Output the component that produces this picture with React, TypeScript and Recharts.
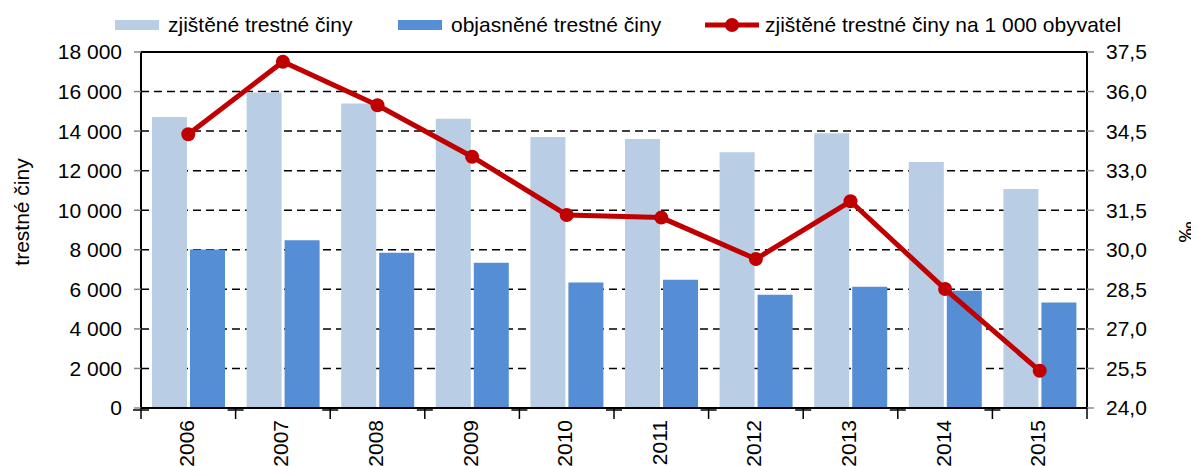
import React from 'react';
import { ComposedChart, Bar, Line, XAxis, YAxis, CartesianGrid, ReferenceLine, Label } from 'recharts';

const years = ['2006', '2007', '2008', '2009', '2010', '2011', '2012', '2013', '2014', '2015'];
const detected = [14710, 15950, 15400, 14630, 13700, 13600, 12930, 13890, 12440, 11070];
const solved = [8020, 8480, 7850, 7350, 6350, 6490, 5730, 6130, 5930, 5340];
const perThousand = [34.38, 37.13, 35.48, 33.53, 31.32, 31.22, 29.65, 31.84, 28.51, 25.41];
const leftTicks = [0, 2000, 4000, 6000, 8000, 10000, 12000, 14000, 16000, 18000];
const rightTicks = [24, 25.5, 27, 28.5, 30, 31.5, 33, 34.5, 36, 37.5];

const seriesNames = ['zjištěné trestné činy', 'objasněné trestné činy', 'zjištěné trestné činy na 1 000 obyvatel'];
const leftTitle = 'trestné činy';
const rightTitle = '‰';

const data = years.map((y, i) => ({ year: y, detected: detected[i], solved: solved[i], rate: perThousand[i] }));

const FONT = '"Liberation Sans", Arial, sans-serif';
const FS = 21;
const W = 1191;
const H = 458;
const M = { top: 44, right: 0, bottom: 0, left: 0 };
const LEFT_W = 133;
const RIGHT_W = 112;
const X_H = 58;
const BAND = (W - LEFT_W - RIGHT_W) / years.length;

const fmtLeft = (v: number) => String(v).replace(/\B(?=(\d{3})+(?!\d))/g, ' ');
const fmtRight = (v: number) => v.toFixed(1).replace('.', ',');

const XTick = (props: any) => {
  const { x, y, payload } = props;
  const bx = x - BAND / 2;
  const ax = y;
  return (
    <g>
      <line x1={bx} x2={bx} y1={ax - 8} y2={ax + 3} stroke="#000" strokeWidth={1.5} />
      <line x1={bx - 8} x2={bx + 8} y1={ax - 6} y2={ax - 6} stroke="#000" strokeWidth={1.5} />
      {payload.index === years.length - 1 ? (
        <line x1={bx + BAND} x2={bx + BAND} y1={ax - 8} y2={ax + 3} stroke="#000" strokeWidth={1.5} />
      ) : null}
      <text
        x={x - 2}
        y={ax + 4}
        transform={`rotate(-90, ${x - 2}, ${ax + 4})`}
        textAnchor="end"
        dominantBaseline="central"
        fontFamily={FONT}
        fontSize={FS}
        fill="#000"
      >
        {payload.value}
      </text>
    </g>
  );
};

const LegendItem = ({ left, kind, color, text }: any) => (
  <div style={{ position: 'absolute', left, top: 4, height: 26, display: 'flex', alignItems: 'center', whiteSpace: 'nowrap' }}>
    {kind === 'rect' ? (
      <svg width={44} height={26} style={{ display: 'block' }}>
        <rect x={0} y={8} width={44} height={10} fill={color} />
      </svg>
    ) : (
      <svg width={54} height={26} style={{ display: 'block' }}>
        <line x1={0} x2={54} y1={13} y2={13} stroke={color} strokeWidth={5} />
        <circle cx={27} cy={13} r={7} fill={color} />
      </svg>
    )}
    <span style={{ fontFamily: FONT, fontSize: FS, color: '#000', marginLeft: kind === 'rect' ? 9 : 6, lineHeight: '26px' }}>{text}</span>
  </div>
);

export default function App() {
  return (
    <div style={{ position: 'relative', width: W, height: H }}>
      <LegendItem left={107} kind="rect" color="#B9CDE5" text={seriesNames[0]} />
      <LegendItem left={390} kind="rect" color="#558ED5" text={seriesNames[1]} />
      <LegendItem left={697} kind="line" color="#C00000" text={seriesNames[2]} />
      <ComposedChart width={W} height={H} data={data} margin={M} barCategoryGap={11} barGap={3}>
        <CartesianGrid yAxisId="left" vertical={false} horizontal stroke="#000" strokeWidth={1.5} strokeDasharray="8 5" />
        <XAxis
          dataKey="year"
          height={X_H}
          interval={0}
          tickLine={false}
          axisLine={{ stroke: '#000', strokeWidth: 2 }}
          tick={<XTick />}
        />
        <YAxis
          yAxisId="left"
          orientation="left"
          width={LEFT_W}
          domain={[0, 18000]}
          ticks={leftTicks}
          interval={0}
          tickFormatter={fmtLeft}
          axisLine={{ stroke: '#000', strokeWidth: 2 }}
          tickLine={{ stroke: '#888', strokeWidth: 1.5 }}
          tickSize={7}
          tickMargin={12}
          tick={{ fontFamily: FONT, fontSize: FS, fill: '#000' }}
        >
          <Label
            content={(p: any) => {
              const vb = p.viewBox;
              const cx = vb.x + 13;
              const cy = vb.y + 160;
              return (
                <text x={cx} y={cy} transform={`rotate(-90, ${cx}, ${cy})`} textAnchor="middle" dominantBaseline="central" fontFamily={FONT} fontSize={FS} fill="#000">
                  {leftTitle}
                </text>
              );
            }}
          />
        </YAxis>
        <YAxis
          yAxisId="right"
          orientation="right"
          width={RIGHT_W}
          domain={[24, 37.5]}
          ticks={rightTicks}
          interval={0}
          tickFormatter={fmtRight}
          axisLine={{ stroke: '#000', strokeWidth: 2 }}
          tickLine={{ stroke: '#888', strokeWidth: 1.5 }}
          tickSize={7}
          tickMargin={12}
          tick={{ fontFamily: FONT, fontSize: FS, fill: '#000' }}
        >
          <Label
            content={(p: any) => {
              const vb = p.viewBox;
              const cx = vb.x + 98;
              const cy = 224;
              return (
                <text x={cx} y={cy} transform={`rotate(-90, ${cx}, ${cy})`} textAnchor="middle" dominantBaseline="central" fontFamily={FONT} fontSize={FS} fill="#000">
                  {rightTitle}
                </text>
              );
            }}
          />
        </YAxis>
        <ReferenceLine yAxisId="left" y={18000} stroke="#000" strokeWidth={2} />
        <Bar yAxisId="left" dataKey="detected" name={seriesNames[0]} fill="#B9CDE5" isAnimationActive={false} />
        <Bar yAxisId="left" dataKey="solved" name={seriesNames[1]} fill="#558ED5" isAnimationActive={false} />
        <Line
          yAxisId="right"
          dataKey="rate"
          name={seriesNames[2]}
          stroke="#C00000"
          strokeWidth={5}
          dot={{ r: 7, fill: '#C00000', stroke: '#C00000', strokeWidth: 0 }}
          activeDot={false}
          isAnimationActive={false}
        />
      </ComposedChart>
    </div>
  );
}
